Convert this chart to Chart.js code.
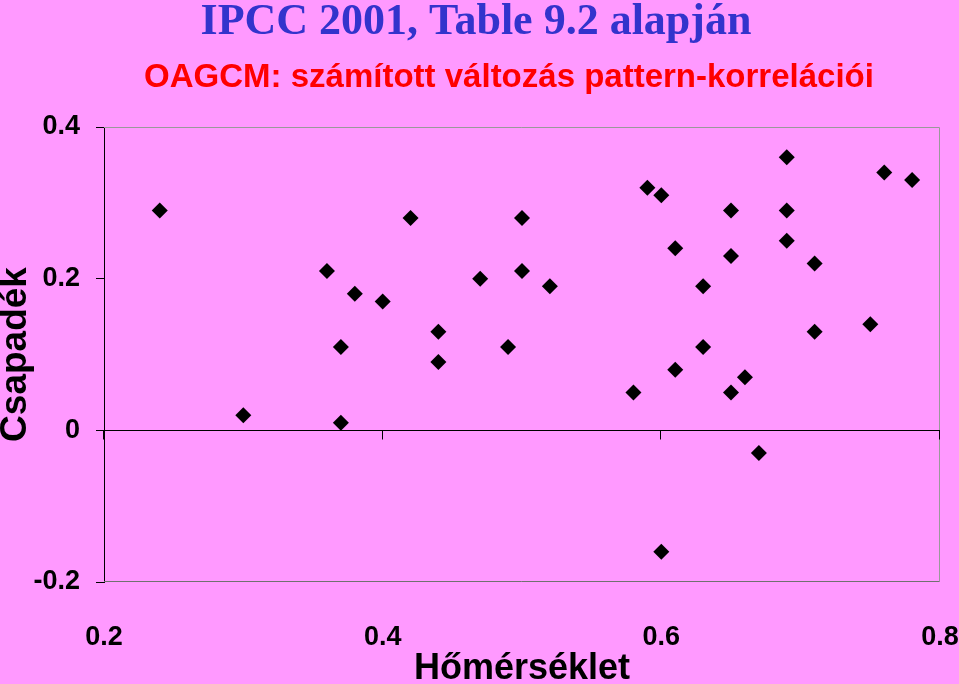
<!DOCTYPE html>
<html>
<head>
<meta charset="utf-8">
<script src="https://cdn.jsdelivr.net/npm/chart.js@4.4.0/dist/chart.umd.min.js"></script>
<style>
  html, body { margin: 0; padding: 0; background: #ff99ff; }
  #wrap { width: 959px; height: 684px; position: relative; }
</style>
</head>
<body>
<div id="wrap"><canvas id="scatterChart"></canvas></div>
<script>
// pattern correlations (temperature vs. precipitation)
const temperature = [
  0.24, 0.30, 0.36, 0.37, 0.37, 0.38, 0.40, 0.42, 0.44, 0.44,
  0.47, 0.49, 0.50, 0.50, 0.52, 0.58, 0.59, 0.60, 0.60, 0.61,
  0.61, 0.63, 0.63, 0.65, 0.65, 0.65, 0.66, 0.67, 0.69, 0.69,
  0.69, 0.71, 0.71, 0.75, 0.76, 0.78
];
const precipitation = [
  0.29, 0.02, 0.21, 0.11, 0.01, 0.18, 0.17, 0.28, 0.13, 0.09,
  0.20, 0.11, 0.28, 0.21, 0.19, 0.05, 0.32, 0.31, -0.16, 0.24,
  0.08, 0.19, 0.11, 0.29, 0.23, 0.05, 0.07, -0.03, 0.36, 0.29,
  0.25, 0.22, 0.13, 0.14, 0.34, 0.33
];
const xTicks = [0.2, 0.4, 0.6, 0.8];
const yTicks = [-0.2, 0, 0.2, 0.4];

const mainTitle = 'IPCC 2001, Table 9.2 alapján';
const subTitle = 'OAGCM: számított változás pattern-korrelációi';

const points = temperature.map((t, i) => ({ x: t, y: precipitation[i] }));

function fmt(v) {
  if (Math.abs(v) < 1e-9) return '0';
  return v.toFixed(1);
}

// titles, plot frame and the zero line with its tick marks
const decorations = {
  id: 'decorations',
  beforeDatasetsDraw(chart) {
    const { ctx, chartArea: a, scales } = chart;
    ctx.save();
    ctx.lineWidth = 1;
    ctx.strokeStyle = '#999999';
    ctx.beginPath();
    ctx.moveTo(a.left, a.top + 0.5);
    ctx.lineTo(a.right - 0.5, a.top + 0.5);
    ctx.lineTo(a.right - 0.5, a.bottom - 0.5);
    ctx.stroke();
    ctx.strokeStyle = '#707070';
    ctx.beginPath();
    ctx.moveTo(a.right - 0.5, a.bottom - 0.5);
    ctx.lineTo(a.left, a.bottom - 0.5);
    ctx.stroke();

    const y0 = Math.round(scales.y.getPixelForValue(0)) + 0.5;
    ctx.strokeStyle = '#000';
    ctx.beginPath();
    ctx.moveTo(a.left, y0);
    ctx.lineTo(a.right, y0);
    xTicks.forEach((v) => {
      const px = Math.round(scales.x.getPixelForValue(v)) - 0.5;
      ctx.moveTo(px, y0);
      ctx.lineTo(px, y0 + 9);
    });
    ctx.stroke();
    ctx.restore();
  },
  afterDraw(chart) {
    const ctx = chart.ctx;
    ctx.save();
    ctx.textAlign = 'center';
    ctx.textBaseline = 'alphabetic';
    ctx.fillStyle = '#3333cc';
    ctx.font = 'bold 44px "Liberation Serif", "Times New Roman", serif';
    ctx.fillText(mainTitle, 476, 34);
    ctx.fillStyle = '#ff0000';
    ctx.font = 'bold 33px "Liberation Sans", Arial, sans-serif';
    ctx.fillText(subTitle, 509, 87);
    ctx.restore();
  },
};

const ctx = document.getElementById('scatterChart');
const chart = new Chart(ctx, {
  type: 'scatter',
  data: {
    datasets: [
      {
        label: 'pattern-korreláció',
        data: points,
        pointStyle: 'rectRot',
        pointRadius: 8,
        pointBackgroundColor: '#000',
        pointBorderColor: '#000',
        pointBorderWidth: 0,
      },
    ],
  },
  options: {
    responsive: true,
    maintainAspectRatio: false,
    animation: false,
    layout: {
      padding: { top: 127, right: 19, bottom: 0, left: 0 },
    },
    plugins: {
      legend: { display: false },
      tooltip: { enabled: false },
    },
    scales: {
      x: {
        type: 'linear',
        position: 'bottom',
        min: 0.2,
        max: 0.8,
        afterBuildTicks: (scale) => {
          scale.ticks = xTicks.map((v) => ({ value: v }));
        },
        afterFit: (scale) => {
          scale.height = 102;
          scale.paddingLeft = 0;
          scale.paddingRight = 0;
        },
        grid: { display: false },
        border: { display: false },
        ticks: {
          padding: 31,
          color: '#000',
          maxRotation: 0,
          font: { family: '"Liberation Sans", Arial, sans-serif', size: 27, weight: 'bold' },
          callback: (v) => fmt(v),
        },
        title: {
          display: true,
          text: 'Hőmérséklet',
          color: '#000',
          padding: 0,
          font: { family: '"Liberation Sans", Arial, sans-serif', size: 36, weight: 'bold', lineHeight: 0.83 },
        },
      },
      y: {
        type: 'linear',
        position: 'left',
        min: -0.2,
        max: 0.4,
        afterBuildTicks: (scale) => {
          scale.ticks = yTicks.map((v) => ({ value: v }));
        },
        afterFit: (scale) => {
          scale.width = 104;
          scale.paddingTop = 0;
          scale.paddingBottom = 0;
        },
        grid: {
          display: true,
          drawOnChartArea: false,
          drawTicks: true,
          tickLength: 8,
          color: '#000',
        },
        border: { display: true, color: '#000', width: 1 },
        ticks: {
          padding: 16,
          color: '#000',
          font: { family: '"Liberation Sans", Arial, sans-serif', size: 27, weight: 'bold' },
          callback: (v) => fmt(v),
        },
        title: {
          display: true,
          text: 'Csapadék',
          color: '#000',
          padding: 0,
          font: { family: '"Liberation Sans", Arial, sans-serif', size: 37, weight: 'bold', lineHeight: 0.86 },
        },
      },
    },
  },
  plugins: [decorations],
});
</script>
</body>
</html>
